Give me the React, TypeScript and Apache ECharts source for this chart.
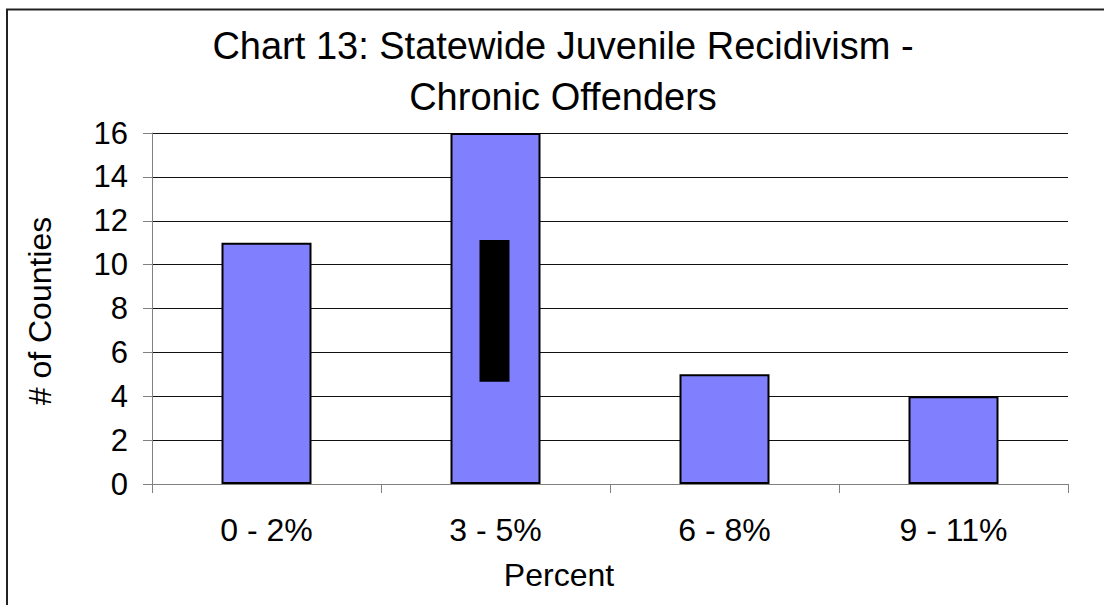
import React, { useEffect, useRef } from "react";
import * as echarts from "echarts";

const titleLines = ["Chart 13: Statewide Juvenile Recidivism -", "Chronic Offenders"];
const categories = ["0 - 2%", "3 - 5%", "6 - 8%", "9 - 11%"];
const counties = [11, 16, 5, 4];
// dark overlay block seen inside the 3 - 5% bar: [category index, low, high]
const overlayBlocks = [[1, 4.66, 11.12]];
const yTicks = { min: 0, max: 16, interval: 2 };
const xAxisName = "Percent";
const yAxisName = "# of Counties";

export default function App() {
  const ref = useRef<HTMLDivElement>(null);
  useEffect(() => {
    if (!ref.current) return;
    const chart = echarts.init(ref.current, null, { renderer: "svg" });
    const font = "'Liberation Sans', Arial, sans-serif";
    chart.setOption({
      animation: false,
      backgroundColor: "#ffffff",
      title: {
        text: titleLines.join("\n"),
        left: 558,
        top: 15.5,
        textAlign: "center",
        textStyle: {
          fontFamily: font,
          fontSize: 38,
          fontWeight: "normal",
          color: "#000",
          lineHeight: 51,
        },
      },
      grid: { left: 152, right: 36, top: 133, bottom: 121, containLabel: false },
      xAxis: {
        type: "category",
        data: categories,
        axisLine: { lineStyle: { color: "#808080", width: 1 } },
        axisTick: { show: true, length: 9, lineStyle: { color: "#808080" } },
        axisLabel: { fontFamily: font, fontSize: 32, color: "#000", margin: 30 },
        splitLine: { show: false },
      },
      yAxis: {
        type: "value",
        min: yTicks.min,
        max: yTicks.max,
        interval: yTicks.interval,
        axisLine: { show: true, lineStyle: { color: "#808080", width: 1 } },
        axisTick: { show: true, length: 9, lineStyle: { color: "#808080" } },
        axisLabel: { fontFamily: font, fontSize: 31, color: "#000", margin: 24 },
        splitLine: { show: true, lineStyle: { color: "#111", width: 1 } },
      },
      series: [
        {
          type: "bar",
          data: counties,
          barWidth: 90,
          itemStyle: { color: "#8080FF", borderColor: "#000", borderWidth: 2 },
          z: 2,
        },
        {
          type: "custom",
          data: overlayBlocks,
          z: 3,
          renderItem: (params: any, api: any) => {
            const lo = api.coord([api.value(0), api.value(1)]);
            const hi = api.coord([api.value(0), api.value(2)]);
            const w = 30;
            return {
              type: "rect",
              shape: { x: lo[0] - w / 2 - 1, y: hi[1], width: w, height: lo[1] - hi[1] },
              style: { fill: "#000" },
            };
          },
        },
      ],
      graphic: [
        {
          type: "rect",
          shape: { x: 7, y: 9.5, width: 1200, height: 700 },
          style: { fill: "none", stroke: "#222", lineWidth: 2 },
          silent: true,
        },
        {
          type: "text",
          x: 559,
          y: 574.5,
          style: {
            text: xAxisName,
            fontFamily: font,
            fontSize: 32,
            fill: "#000",
            textAlign: "center",
            textVerticalAlign: "middle",
          },
        },
        {
          type: "text",
          x: 40,
          y: 311,
          rotation: Math.PI / 2,
          style: {
            text: yAxisName,
            fontFamily: font,
            fontSize: 32,
            fill: "#000",
            textAlign: "center",
            textVerticalAlign: "middle",
          },
        },
      ],
    });
    return () => chart.dispose();
  }, []);
  return (
    <div
      ref={ref}
      style={{ position: "fixed", left: 0, top: 0, width: 1104, height: 605 }}
    />
  );
}
